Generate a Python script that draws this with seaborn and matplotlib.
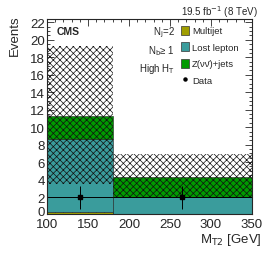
import numpy as np
import pandas as pd
import seaborn as sns
import matplotlib.pyplot as plt
import matplotlib.transforms as mtransforms
from matplotlib.patches import Patch
from matplotlib.lines import Line2D
from matplotlib.ticker import MultipleLocator

# binning and yields
bin_edges = [100, 180, 350]
bin_centers = [140, 265]
processes = ["Multijet", "Lost lepton", "Z(νν̄)+jets"]
multijet = [0.3, 0.02]
lost_lepton = [8.35, 2.0]
znunu = [2.6, 2.3]
unc_low = [3.5, 2.0]
unc_high = [19.3, 6.95]
data_y = [2, 2]
data_err_lo = [1.4, 1.4]
data_err_hi = [1.3, 1.3]
colors = {"Multijet": "#a09e00", "Lost lepton": "#3a9c9c", "Z(νν̄)+jets": "#009a00"}

sns.set_theme(style="ticks")
plt.rcParams["font.family"] = ["Liberation Sans", "DejaVu Sans"]
plt.rcParams["hatch.linewidth"] = 0.5

# long table for seaborn's stacked histogram
rows = []
for name, vals in zip(processes, [multijet, lost_lepton, znunu]):
    for c, v in zip(bin_centers, vals):
        rows.append({"mt2": c, "events": v, "process": name})
df = pd.DataFrame(rows)

fig = plt.figure(figsize=(2.66, 2.55), dpi=100)
ax = fig.add_axes([0.177, 0.155, 0.77, 0.767])

sns.histplot(data=df, x="mt2", weights="events", hue="process",
             hue_order=processes[::-1], bins=bin_edges, multiple="stack",
             palette=colors, alpha=1, edgecolor="#222222", linewidth=0.4,
             legend=False, ax=ax)

# uncertainty band
ax.bar(bin_edges[:-1], np.array(unc_high) - np.array(unc_low),
       width=np.diff(bin_edges), bottom=unc_low, align="edge",
       fill=False, hatch="xxxxx", edgecolor="#111111", linewidth=0)

# data
ax.errorbar(bin_centers, data_y, xerr=np.diff(bin_edges) / 2,
            yerr=[data_err_lo, data_err_hi], fmt="s", color="black",
            ms=2.2, elinewidth=0.7, capsize=0)

ax.set_xlim(100, 350)
ax.set_ylim(0, 22.4)
ax.set_xlabel("")
ax.set_ylabel("")
ax.xaxis.set_major_locator(MultipleLocator(50))
ax.xaxis.set_minor_locator(MultipleLocator(10))
ax.yaxis.set_major_locator(MultipleLocator(2))
ax.yaxis.set_minor_locator(MultipleLocator(0.5))
ax.tick_params(which="both", direction="in", top=True, right=True,
               labelsize=9.5, width=0.6)
ax.tick_params(axis="x", pad=2.5)
ax.tick_params(axis="y", pad=1.5)
ax.tick_params(which="major", length=5)
ax.tick_params(which="minor", length=2.5)
for s in ax.spines.values():
    s.set_linewidth(0.8)

ax.text(0.045, 0.965, "CMS", transform=ax.transAxes, fontsize=7.5,
        fontweight="bold", va="top", ha="left")
fig.text(0.97, 0.952, "19.5 fb$^{-1}$ (8 TeV)", fontsize=7, ha="right", va="center")
fig.text(0.055, 0.94, "Events", fontsize=9.5, rotation=90, ha="center", va="top")
fig.text(0.985, 0.06, "M$_{\\mathrm{T2}}$ [GeV]", fontsize=9.5, ha="right", va="center")

# category labels
for y, t in zip([0.871, 0.80, 0.729],
                ["N$_{\\mathrm{j}}$=2", "N$_{\\mathrm{b}}$≥ 1", "High H$_{\\mathrm{T}}$"]):
    fig.text(0.658, y, t, fontsize=7, ha="right", va="center")

handles = [Patch(facecolor=colors[p], edgecolor="#333333", linewidth=0.5) for p in processes]
handles.append(Line2D([], [], marker="o", color="black", ls="none", ms=2.2))
leg = ax.legend(handles, processes + ["Data"], loc="upper left",
                bbox_to_anchor=(0.635, 0.985), frameon=False, fontsize=6.8,
                handlelength=0.85, handleheight=1.15, handletextpad=0.3,
                labelspacing=0.7, borderaxespad=0)

# nudge the "0" label up a little so it clears the x labels, as in the reference
fig.canvas.draw()
shift = mtransforms.ScaledTranslation(0, 4 / 100, fig.dpi_scale_trans)
for tick in ax.yaxis.get_major_ticks():
    if tick.get_loc() == 0:
        tick.label1.set_transform(tick.label1.get_transform() + shift)

fig.savefig("out.png", dpi=100)
